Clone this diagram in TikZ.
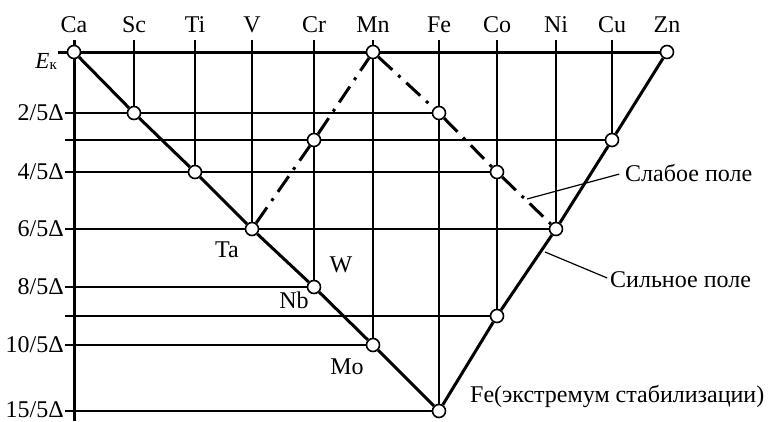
\documentclass[tikz,border=0pt]{standalone}
\usepackage{fontspec}
\setmainfont{Liberation Serif}
\usetikzlibrary{positioning}

\begin{document}
\begin{tikzpicture}[x=1pt, y=-1pt,
  knot/.style={circle, draw, fill=white, inner sep=0pt, minimum size=13pt, line width=1.6pt},
  gridline/.style={line width=1.2pt},
  heavy/.style={line width=3pt},
  weakline/.style={line width=3pt, dash pattern=on 19pt off 8pt on 3pt off 8pt},
  lbl/.style={font=\fontsize{24}{28}\selectfont, inner sep=0pt}]
\useasboundingbox (0,0) rectangle (768,421);

% element names
\node (lCa) at (74,32) [lbl, anchor=base] {Ca};
\node (lSc) at (134,32) [lbl, anchor=base] {Sc};
\node (lTi) at (195,32) [lbl, anchor=base] {Ti};
\node (lV) at (252,32) [lbl, anchor=base] {V};
\node (lCr) at (314,32) [lbl, anchor=base] {Cr};
\node (lMn) at (373,32) [lbl, anchor=base] {Mn};
\node (lFe) at (439,32) [lbl, anchor=base] {Fe};
\node (lCo) at (497,32) [lbl, anchor=base] {Co};
\node (lNi) at (556,32) [lbl, anchor=base] {Ni};
\node (lCu) at (612,32) [lbl, anchor=base] {Cu};
\node (lZn) at (667,32) [lbl, anchor=base] {Zn};

\coordinate (tCa) at (74,40);
\coordinate (tSc) at (134,40);
\coordinate (tTi) at (195,40);
\coordinate (tV) at (252,40);
\coordinate (tCr) at (314,40);
\coordinate (tMn) at (373,40);
\coordinate (tFe) at (439,40);
\coordinate (tCo) at (497,40);
\coordinate (tNi) at (556,40);
\coordinate (tCu) at (612,40);

% energy levels
\node (ek) at (57,68) [anchor=base east, inner sep=0pt, font=\fontsize{23}{27}\selectfont] {\textit{E}\raisebox{-1.5pt}{\fontsize{15}{15}\selectfont к}};
\node (d2) at (64,120.5) [lbl, anchor=base east] {2/5Δ};
\node (d4) at (64,179.5) [lbl, anchor=base east] {4/5Δ};
\node (d6) at (64,236.5) [lbl, anchor=base east] {6/5Δ};
\node (d8) at (64,294.5) [lbl, anchor=base east] {8/5Δ};
\node (d10) at (64,352.5) [lbl, anchor=base east] {10/5Δ};
\node (d15) at (64,417) [lbl, anchor=base east] {15/5Δ};

\coordinate (h0) at (58,52);
\coordinate (h2) at (65,113);
\coordinate (h3) at (65,140);
\coordinate (h4) at (65,172);
\coordinate (h6) at (65,229);
\coordinate (h8) at (65,287);
\coordinate (h9) at (65,316);
\coordinate (h10) at (65,345);
\coordinate (h15) at (65,411);
\coordinate (axend) at (74,421);

% points
\node (ca) at (74,52) [knot] {};
\node (sc) at (134,113) [knot] {};
\node (ti) at (195,172) [knot] {};
\node (v) at (252,229) [knot] {};
\node (nb) at (314,287) [knot] {};
\node (mo) at (373,345) [knot] {};
\node (feb) at (439,411) [knot] {};
\node (co9) at (497,316) [knot] {};
\node (ni) at (556,229) [knot] {};
\node (cu) at (612,140) [knot] {};
\node (zn) at (667,52) [knot] {};
\node (cr) at (314,140) [knot] {};
\node (mn) at (373,52) [knot] {};
\node (fe) at (439,113) [knot] {};
\node (co) at (497,172) [knot] {};

% grid
\draw[gridline] (tSc) -- (sc);
\draw[gridline] (tTi) -- (ti);
\draw[gridline] (tV) -- (v);
\draw[gridline] (tCr) -- (cr) -- (nb);
\draw[gridline] (tMn) -- (mn) -- (mo);
\draw[gridline] (tFe) -- (fe) -- (feb);
\draw[gridline] (tCo) -- (co) -- (co9);
\draw[gridline] (tNi) -- (ni);
\draw[gridline] (tCu) -- (cu);

\draw[gridline] (h2) -- (sc) -- (fe);
\draw[gridline] (h3) -- (cr) -- (cu);
\draw[gridline] (h4) -- (ti) -- (co);
\draw[gridline] (h6) -- (v) -- (ni);
\draw[gridline] (h8) -- (nb);
\draw[gridline] (h9) -- (co9);
\draw[gridline] (h10) -- (mo);
\draw[gridline] (h15) -- (feb);

% axes and curves
\draw[heavy] (tCa) -- (ca) -- (axend);
\draw[heavy] (h0) -- (ca) -- (mn) -- (zn);
\draw[heavy] (ca) -- (sc) -- (ti) -- (v) -- (nb) -- (mo) -- (feb);
\draw[heavy] (feb) -- (co9) -- (ni) -- (cu) -- (zn);
\draw[weakline] (v) -- (cr) -- (mn) -- (fe) -- (co) -- (ni);

% labels
\node (ta) at (227,257) [lbl, anchor=base] {Ta};
\node (w) at (341,272) [lbl, anchor=base] {W};
\node (lnb) at (294,308) [lbl, anchor=base] {Nb};
\node (lmo) at (347,374) [lbl, anchor=base] {Mo};
\node (ext) at (470,402) [lbl, anchor=base west] {Fe(экстремум стабилизации)};
\node (weak) at (625,181) [lbl, anchor=base west] {Слабое поле};
\node (strong) at (610,287) [lbl, anchor=base west] {Сильное поле};

\coordinate (wp) at (527,199);
\coordinate (sp) at (545,252);
\draw[gridline, shorten >=6pt] (wp) -- (weak.west);
\draw[gridline, shorten >=3pt] (sp) -- (strong.west);
\end{tikzpicture}
\end{document}
